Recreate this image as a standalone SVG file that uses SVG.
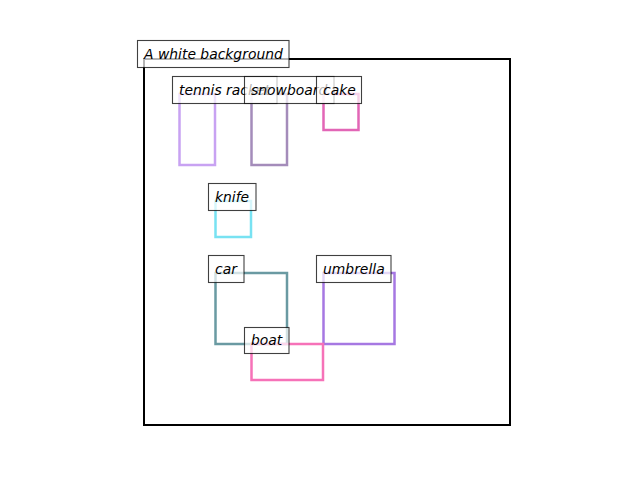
<svg xmlns="http://www.w3.org/2000/svg" width="640" height="480" viewBox="0 0 640 480">
<style>
.box{fill:none;stroke-width:2.5}
.lb{fill:#fff;fill-opacity:0.7;stroke:#000;stroke-opacity:0.75;stroke-width:1.1}
.t{font-family:"DejaVu Sans",sans-serif;font-style:italic;font-size:13.9px;fill:#000}
</style>
<rect x="0" y="0" width="640" height="480" fill="#fff"/>
<rect x="144" y="59" width="366" height="366" fill="none" stroke="#000" stroke-width="2"/>
<g id="tennis-racket"><rect class="box" x="179.5" y="94" width="35.5" height="71" stroke="#c8a2f2"/></g>
<g id="snowboard"><rect class="box" x="251.5" y="94" width="35.5" height="71" stroke="#a48cba"/></g>
<g id="cake"><rect class="box" x="323.5" y="94" width="35" height="36" stroke="#e266b6"/></g>
<g id="knife"><rect class="box" x="215.5" y="201" width="35.5" height="36" stroke="#78e2f2"/></g>
<g id="car"><rect class="box" x="215.5" y="273" width="71.5" height="71" stroke="#6a9aa2"/></g>
<g id="umbrella"><rect class="box" x="323.5" y="273" width="71" height="71" stroke="#a678e2"/></g>
<g id="boat"><rect class="box" x="251.5" y="344" width="71.5" height="36" stroke="#f672b8"/></g>
<g id="labels">
<g id="label-bg"><rect class="lb" x="137.5" y="40.5" width="151.5" height="27"/><text class="t" x="144" y="59">A white background</text></g>
<g id="label-tennis"><rect class="lb" x="172.5" y="76.5" width="104.5" height="27"/><text class="t" x="179" y="95">tennis racket</text></g>
<g id="label-snowboard"><rect class="lb" x="244.5" y="76.5" width="89.5" height="27"/><text class="t" x="251" y="95">snowboard</text></g>
<g id="label-cake"><rect class="lb" x="316.5" y="76.5" width="45" height="27"/><text class="t" x="323" y="95">cake</text></g>
<g id="label-knife"><rect class="lb" x="208.5" y="183.5" width="47.5" height="27"/><text class="t" x="215" y="202">knife</text></g>
<g id="label-car"><rect class="lb" x="208.5" y="255.5" width="35.5" height="27"/><text class="t" x="215" y="274">car</text></g>
<g id="label-umbrella"><rect class="lb" x="316.5" y="255.5" width="74.5" height="27"/><text class="t" x="323" y="274">umbrella</text></g>
<g id="label-boat"><rect class="lb" x="244.5" y="327.5" width="44.5" height="26"/><text class="t" x="251" y="345">boat</text></g>
</g>
</svg>
